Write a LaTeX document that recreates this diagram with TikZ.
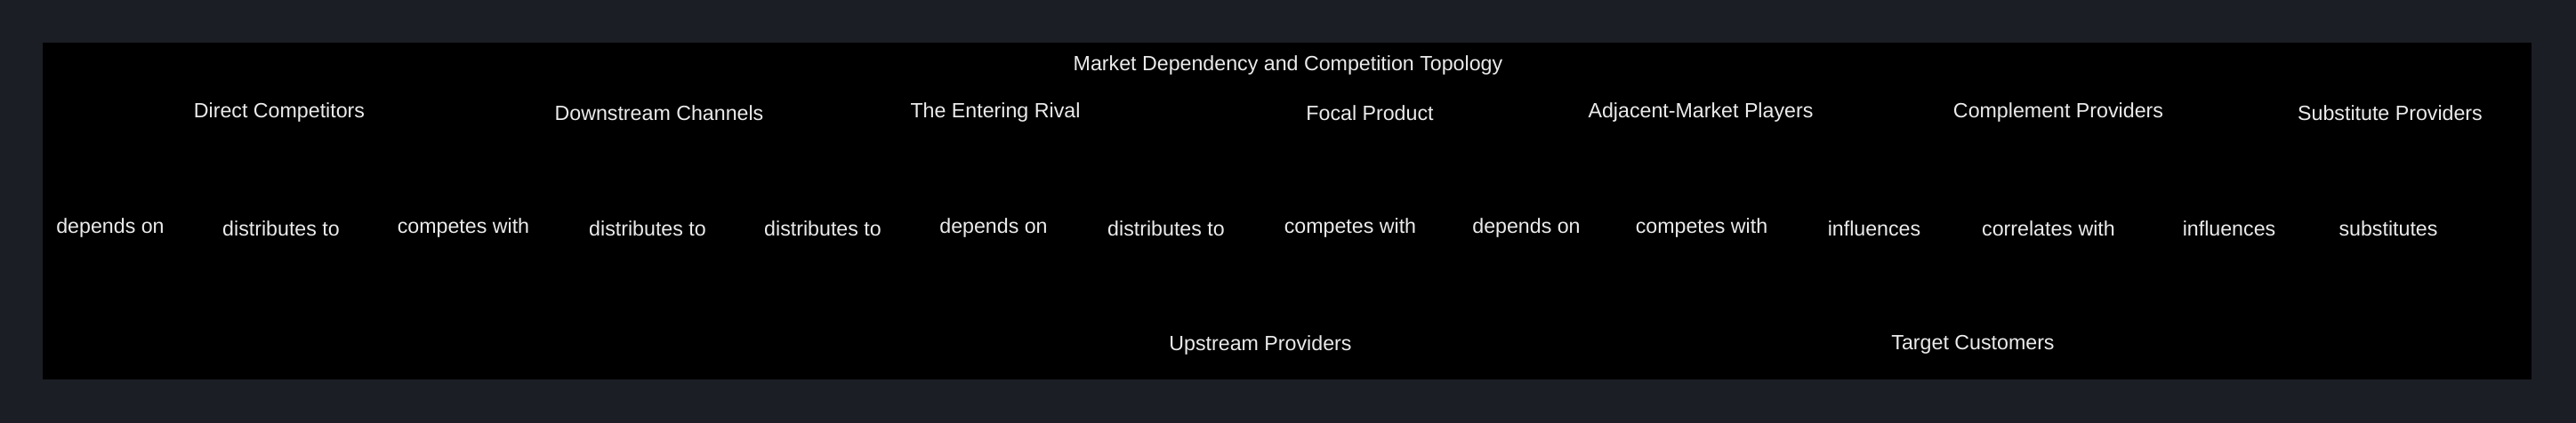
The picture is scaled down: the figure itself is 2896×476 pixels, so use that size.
\documentclass[tikz,border=0pt]{standalone}
\usepackage{fontspec}
\setmainfont{Liberation Sans}
\usepackage{xcolor}
\definecolor{pagedark}{RGB}{27, 30, 36}
\definecolor{labelwhite}{RGB}{235, 235, 235}
\usetikzlibrary{positioning}
\tikzset{
    entity/.style={
        text=labelwhite,
        font=\fontsize{6.6}{8}\selectfont,
        inner sep=1pt
    },
    relation/.style={
        entity
    }
}

\begin{document}
\begin{tikzpicture}[x=0.01cm, y=-0.01cm]

% ---------------------------------------------------------
% Background
% ---------------------------------------------------------
\fill[pagedark] (0,0) rectangle (2896,476);
\fill[black] (48,48) rectangle (2846,427);

% ---------------------------------------------------------
% Title
% ---------------------------------------------------------
\node[entity] (title) at (1448,74) {Market Dependency and Competition Topology};

% ---------------------------------------------------------
% Entities (top row)
% ---------------------------------------------------------
\node[entity] (direct) at (314,127) {Direct Competitors};
\node[entity] (downstream) at (741,127) {Downstream Channels};
\node[entity] (rival) at (1119,127) {The Entering Rival};
\node[entity] (focal) at (1540,127) {Focal Product};
\node[entity] (adjacent) at (1912,127) {Adjacent-Market Players};
\node[entity] (complement) at (2314,127) {Complement Providers};
\node[entity] (substitute) at (2687,127) {Substitute Providers};

% ---------------------------------------------------------
% Relations (middle row)
% ---------------------------------------------------------
\node[relation] (r1) at (124,257) {depends on};
\node[relation] (r2) at (316,257) {distributes to};
\node[relation] (r3) at (521,257) {competes with};
\node[relation] (r4) at (728,257) {distributes to};
\node[relation] (r5) at (925,257) {distributes to};
\node[relation] (r6) at (1117,257) {depends on};
\node[relation] (r7) at (1311,257) {distributes to};
\node[relation] (r8) at (1518,257) {competes with};
\node[relation] (r9) at (1716,257) {depends on};
\node[relation] (r10) at (1913,257) {competes with};
\node[relation] (r11) at (2107,257) {influences};
\node[relation] (r12) at (2303,257) {correlates with};
\node[relation] (r13) at (2506,257) {influences};
\node[relation] (r14) at (2685,257) {substitutes};

% ---------------------------------------------------------
% Entities (bottom row)
% ---------------------------------------------------------
\node[entity] (upstream) at (1417,388) {Upstream Providers};
\node[entity] (target) at (2218,388) {Target Customers};

\end{tikzpicture}
\end{document}
